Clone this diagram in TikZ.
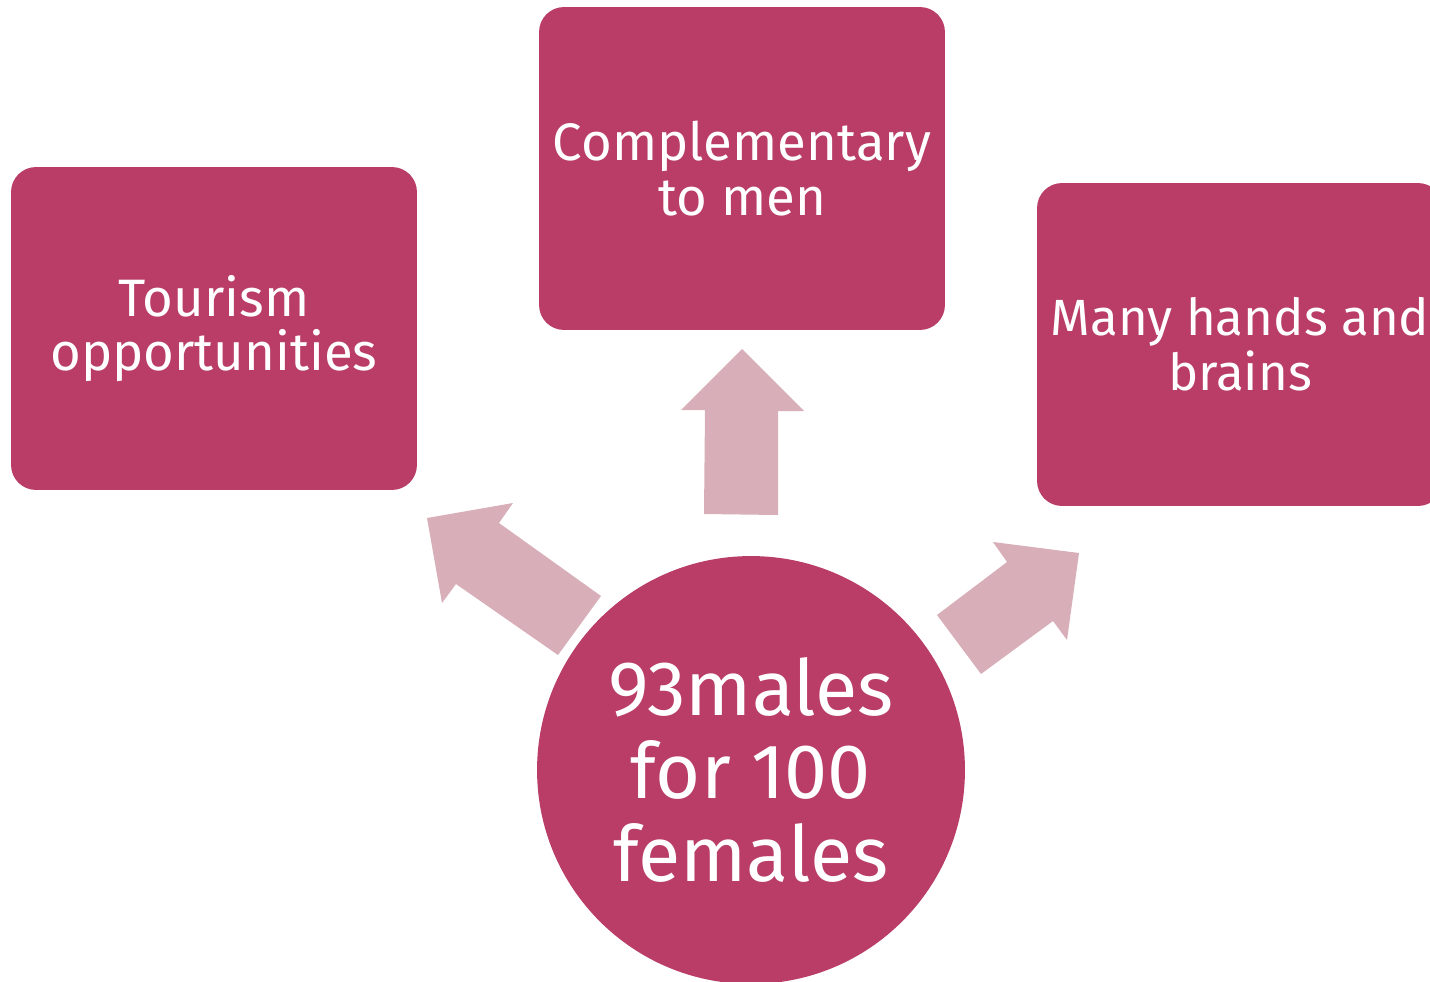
\documentclass[tikz,border=0pt]{standalone}
\usepackage{fontspec}
\setmainfont{Fira Sans}
\usepackage{xcolor}
\usepackage{tikz}

\definecolor{berry}{RGB}{185,61,103}
\definecolor{blush}{RGB}{216,174,184}

\begin{document}
\begin{tikzpicture}[x=0.02cm,y=-0.02cm,
    reason/.style={rectangle,rounded corners=0.5cm,fill=berry,text=white,
      minimum width=8.12cm,minimum height=6.46cm,align=center,inner sep=0pt,
      font=\fontsize{30}{31.2}\selectfont},
    ratio/.style={circle,fill=berry,text=white,minimum size=8.56cm,
      align=center,inner sep=0pt,font=\fontsize{44}{47}\selectfont},
    push/.style={fill=blush}]

  \clip (0,0) rectangle (1430,981);

  % the three reasons
  \node[reason] (tourism) at (214,328.5) {Tourism\\opportunities};
  \node[reason] (complement) at (742,168.5) {Complementary\\to men};
  \node[reason,font=\fontsize{29}{31.2}\selectfont] (hands) at (1240,344.5)
    {Many hands and\\brains};

  % centre
  \node[ratio] (sexratio) at (751,770) {93males\\for 100\\females};

  % block arrows
  \fill[push] (742,349) -- (804,411) -- (778,411) -- (778,515)
    -- (704,514) -- (705,410) -- (681,410) -- cycle;
  \fill[push] (427,518) -- (513,503) -- (499,523) -- (601,596)
    -- (558,655) -- (456,584) -- (442,603) -- cycle;
  \fill[push] (1079,553) -- (1067,640) -- (1053,621) -- (981,674)
    -- (937,615) -- (1007,562) -- (993,542) -- cycle;
\end{tikzpicture}
\end{document}
